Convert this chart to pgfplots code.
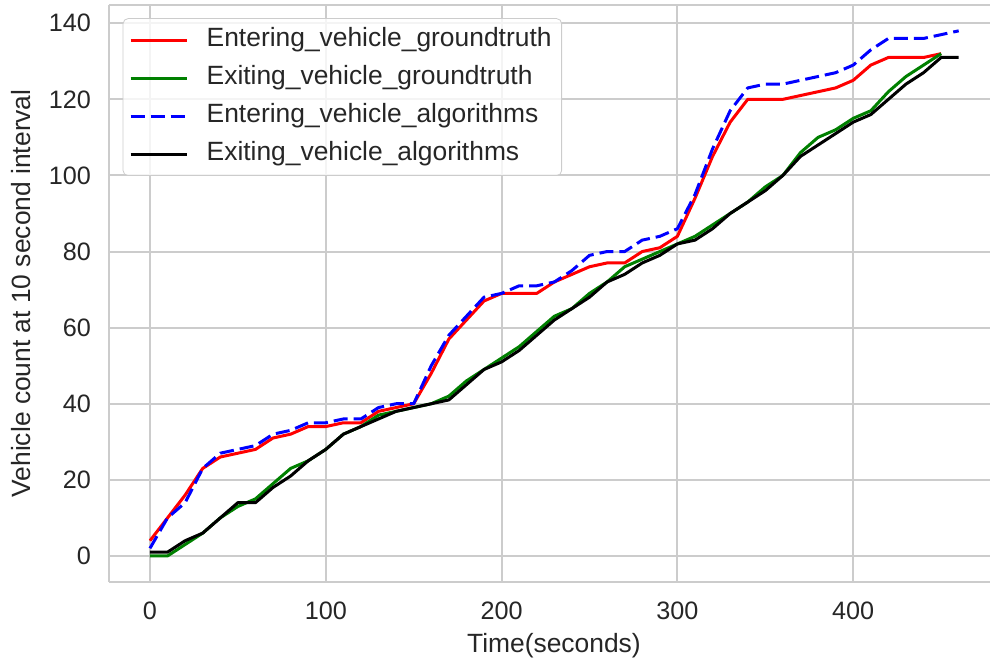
\documentclass[border=0pt]{standalone}
\usepackage{pgfplots}
\pgfplotsset{compat=1.18}
\usepackage{fontspec}
\setmainfont{Liberation Sans}
\definecolor{txt}{HTML}{262626}
\definecolor{gridc}{HTML}{CCCCCC}
\definecolor{mygreen}{HTML}{008000}
\begin{document}
\begin{tikzpicture}
\begin{axis}[
  name=ax,
  scale only axis, width=440.5pt, height=288.8pt,
  xmin=-23.3, xmax=477.8, ymin=-6.9, ymax=144.9,
  axis x line=box, axis y line=left,
  axis line style={-, draw=gridc, line width=1pt},
  grid=major, grid style={draw=gridc, line width=1pt},
  major tick length=0pt,
  xtick={0,100,...,400}, ytick={0,20,...,140},
  /pgf/number format/assume math mode=true,
  tick label style={font=\fontsize{12.6}{15}\selectfont, text=txt},
  yticklabel style={xshift=-5.5pt},
  xticklabel style={yshift=-6.5pt},
  xlabel={Time(seconds)},
  ylabel={Vehicle count at 10 second interval},
  label style={font=\fontsize{13.2}{16}\selectfont, text=txt},
  xlabel style={at={(axis description cs:0.505,-0.0883)}, anchor=north, inner sep=0pt},
  ylabel style={at={(axis description cs:-0.1112,0.5)}, anchor=north, inner sep=0pt},
  legend cell align=left,
  legend style={at={(axis description cs:0,1)}, anchor=north west, xshift=6.85pt, yshift=-6.8pt,
    draw=gridc, rounded corners=2.5pt, fill=white, fill opacity=0.8, text opacity=1,
    font=\fontsize{13.2}{16}\selectfont, text=txt,
    inner xsep=3pt, inner ysep=3pt, row sep=3.5pt,
    nodes={inner sep=2pt, text height=9pt, text depth=2.5pt},
    /tikz/every odd column/.append style={column sep=7pt}},
  legend image code/.code={\draw[#1, line width=1.5pt] (0pt,0pt) -- (28.3pt,0pt);},
  every axis plot/.append style={line width=1.5pt, line join=round},
]
\addplot[red] coordinates {(0,4)(10,10)(20,16)(30,23)(40,26)(50,27)(60,28)(70,31)(80,32)(90,34)(100,34)(110,35)(120,35)(130,38)(140,39)(150,40)(160,48)(170,57)(180,62)(190,67)(200,69)(210,69)(220,69)(230,72)(240,74)(250,76)(260,77)(270,77)(280,80)(290,81)(300,84)(310,94)(320,105)(330,114)(340,120)(350,120)(360,120)(370,121)(380,122)(390,123)(400,125)(410,129)(420,131)(430,131)(440,131)(450,132)};
\addlegendentry{Entering\_vehicle\_groundtruth}
\addplot[mygreen] coordinates {(0,0)(10,0)(20,3)(30,6)(40,10)(50,13)(60,15)(70,19)(80,23)(90,25)(100,28)(110,32)(120,34)(130,37)(140,38)(150,39)(160,40)(170,42)(180,46)(190,49)(200,52)(210,55)(220,59)(230,63)(240,65)(250,69)(260,72)(270,76)(280,78)(290,80)(300,82)(310,84)(320,87)(330,90)(340,93)(350,97)(360,100)(370,106)(380,110)(390,112)(400,115)(410,117)(420,122)(430,126)(440,129)(450,132)};
\addlegendentry{Exiting\_vehicle\_groundtruth}
\addplot[blue, dash pattern=on 7pt off 3pt] coordinates {(0,2)(10,10)(20,14)(30,23)(40,27)(50,28)(60,29)(70,32)(80,33)(90,35)(100,35)(110,36)(120,36)(130,39)(140,40)(150,40)(160,50)(170,58)(180,63)(190,68)(200,69)(210,71)(220,71)(230,72)(240,75)(250,79)(260,80)(270,80)(280,83)(290,84)(300,86)(310,95)(320,107)(330,117)(340,123)(350,124)(360,124)(370,125)(380,126)(390,127)(400,129)(410,133)(420,136)(430,136)(440,136)(450,137)(460,138)};
\addlegendentry{Entering\_vehicle\_algorithms}
\addplot[black] coordinates {(0,1)(10,1)(20,4)(30,6)(40,10)(50,14)(60,14)(70,18)(80,21)(90,25)(100,28)(110,32)(120,34)(130,36)(140,38)(150,39)(160,40)(170,41)(180,45)(190,49)(200,51)(210,54)(220,58)(230,62)(240,65)(250,68)(260,72)(270,74)(280,77)(290,79)(300,82)(310,83)(320,86)(330,90)(340,93)(350,96)(360,100)(370,105)(380,108)(390,111)(400,114)(410,116)(420,120)(430,124)(440,127)(450,131)(460,131)};
\addlegendentry{Exiting\_vehicle\_algorithms}
\end{axis}
\pgfresetboundingbox
\useasboundingbox ([xshift=-54.5pt, yshift=-40.35pt]ax.south west) rectangle ([yshift=2.3pt]ax.north east);
\end{tikzpicture}
\end{document}
